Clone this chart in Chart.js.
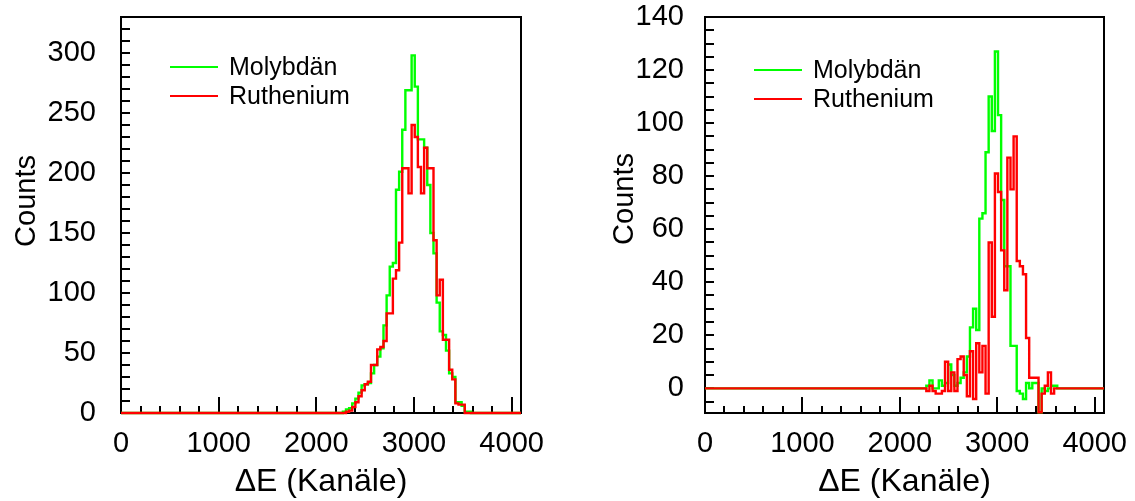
<!DOCTYPE html>
<html>
<head>
<meta charset="utf-8">
<script src="https://cdn.jsdelivr.net/npm/chart.js@4.4.1/dist/chart.umd.min.js"></script>
<style>
  html, body { margin: 0; padding: 0; background: #fff; overflow: hidden; }
  #wrap { position: relative; width: 1135px; height: 501px; }
  canvas { position: absolute; top: 0; }
</style>
</head>
<body>
<div id="wrap">
  <canvas id="leftChart" width="567" height="501" style="left:0"></canvas>
  <canvas id="rightChart" width="568" height="501" style="left:567px"></canvas>
</div>
<script>
// histogram bins are 32 channels wide, listed bins start at channel 2240
const binWidth = 32;
const firstChannel = 2240;
const channelMax = 4096;

const seriesNames = ['Molybdän', 'Ruthenium'];

// left panel: raw spectra
const molyLeft = [0, 1, 3, 4, 8, 12, 17, 23, 24, 25, 33, 40, 47, 54, 73, 98, 122, 125, 186, 201,
  236, 269, 269, 298, 272, 228, 228, 221, 190, 150, 133, 92, 68, 65, 52, 33, 30, 9, 9, 6, 1, 1];
const ruthLeft = [0, 0, 1, 2, 5, 9, 14, 19, 24, 26, 40, 40, 53, 55, 60, 83, 83, 112, 119, 142,
  204, 204, 183, 240, 230, 205, 183, 221, 204, 204, 144, 98, 111, 61, 61, 36, 28, 8, 7, 7, 0, 0];

// right panel: background subtracted spectra
const molyRight = [0, 1, 3, 0, 0, 3, 1, 2, 9, 5, 1, 2, 4, 6, 12, 23, 30, 22, 64, 66,
  89, 110, 97, 127, 103, 71, 46, 46, 16, 16, -1, -2, -4, 2, 0, 2, 2, -9, 0, -1, 0, 1, 1, 0];
const ruthRight = [0, -1, 1, -1, -2, -2, -1, 10, -1, 6, -1, 11, 12, 5, -3, 14, -4, 17, 6, 16,
  -2, 55, 27, 81, 74, 52, 37, 87, 75, 95, 48, 46, 43, 19, 4, 4, 4, -9, -2, 1, 6, -2, 0, 0];

const xMajor = [0, 1000, 2000, 3000, 4000];
const xMinor = [200, 400, 600, 800, 1200, 1400, 1600, 1800, 2200, 2400, 2600, 2800,
  3200, 3400, 3600, 3800];
const leftYMajor = [0, 50, 100, 150, 200, 250, 300];
const rightYMajor = [0, 20, 40, 60, 80, 100, 120, 140];

Chart.defaults.font.family = "'Liberation Sans', Arial, sans-serif";
Chart.defaults.color = '#000';

function histPoints(counts) {
  const pts = [{x: 0, y: 0}];
  counts.forEach(function(c, i) {
    pts.push({x: firstChannel + i * binWidth, y: c});
  });
  pts.push({x: firstChannel + counts.length * binWidth, y: 0});
  pts.push({x: channelMax, y: 0});
  return pts;
}

function minorValues(lo, hi, step) {
  const out = [];
  for (let v = lo; v <= hi; v += step) out.push(v);
  return out;
}

const framePlugin = {
  id: 'frame',
  beforeDatasetsDraw(chart, args, opts) {
    const {ctx, chartArea: a, scales: {x, y}} = chart;
    ctx.save();
    ctx.strokeStyle = '#000';
    ctx.lineWidth = 2;
    ctx.beginPath();
    xMajor.concat(xMinor).forEach(function(v) {
      const px = Math.round(x.getPixelForValue(v));
      const len = xMajor.includes(v) ? 16 : 7;
      ctx.moveTo(px, a.bottom);
      ctx.lineTo(px, a.bottom - len);
    });
    opts.yTicks.forEach(function(v) {
      const py = Math.round(y.getPixelForValue(v));
      ctx.moveTo(a.left, py);
      ctx.lineTo(a.left + 9, py);
    });
    ctx.stroke();
    ctx.strokeRect(a.left, a.top, a.right - a.left, a.bottom - a.top);
    ctx.restore();
  },
  afterDraw(chart, args, opts) {
    const {ctx, chartArea: a} = chart;
    ctx.save();
    // y axis title
    ctx.font = "29px 'Liberation Sans', Arial, sans-serif";
    ctx.fillStyle = '#000';
    ctx.textAlign = 'center';
    ctx.textBaseline = 'alphabetic';
    ctx.translate(opts.titleX, opts.titleY);
    ctx.rotate(-Math.PI / 2);
    ctx.fillText('Counts', 0, 0);
    ctx.restore();

    // legend
    ctx.save();
    ctx.font = "25px 'Liberation Sans', Arial, sans-serif";
    ctx.textBaseline = 'middle';
    ctx.textAlign = 'left';
    ctx.lineWidth = 2;
    const colors = ['#00ff00', '#ff0000'];
    seriesNames.forEach(function(name, i) {
      const ly = opts.legendY + i * 29;
      ctx.strokeStyle = colors[i];
      ctx.beginPath();
      ctx.moveTo(a.left + 49, ly);
      ctx.lineTo(a.left + 97, ly);
      ctx.stroke();
      ctx.fillStyle = '#000';
      ctx.fillText(name, a.left + 108, ly + 1);
    });
    ctx.restore();
  }
};

function makeChart(id, moly, ruth, yMin, yMax, yMajor, yTicks, axisWidth, rightPad, tickPad, titleX, titleY, legendY) {
  return new Chart(document.getElementById(id), {
    type: 'line',
    data: {
      datasets: [
        {
          label: seriesNames[0],
          data: histPoints(moly),
          borderColor: '#00ff00',
          borderWidth: 2.4,
          pointRadius: 0,
          stepped: 'before',
          fill: false,
          clip: false,
          order: 2
        },
        {
          label: seriesNames[1],
          data: histPoints(ruth),
          borderColor: '#ff0000',
          borderWidth: 2.4,
          pointRadius: 0,
          stepped: 'before',
          fill: false,
          clip: false,
          order: 1
        }
      ]
    },
    options: {
      responsive: false,
      animation: false,
      devicePixelRatio: 1,
      layout: { padding: { left: 0, top: 17, right: rightPad, bottom: 0 } },
      plugins: {
        legend: { display: false },
        tooltip: { enabled: false },
        frame: { yTicks: yTicks, titleX: titleX, titleY: titleY, legendY: legendY }
      },
      scales: {
        x: {
          type: 'linear',
          min: 0,
          max: channelMax,
          grid: { display: false, drawTicks: false },
          border: { display: false },
          afterBuildTicks(scale) {
            scale.ticks = xMajor.map(function(v) { return {value: v}; });
          },
          ticks: {
            autoSkip: false,
            maxRotation: 0,
            padding: 14,
            font: { size: 29 },
            color: '#000',
            callback: function(v) { return String(v); }
          },
          title: {
            display: true,
            text: 'ΔE (Kanäle)',
            font: { size: 32 },
            color: '#000',
            padding: { top: 0, bottom: 0 }
          },
          afterFit(scale) {
            scale.height = 88;
            scale.paddingLeft = 0;
            scale.paddingRight = 0;
          }
        },
        y: {
          type: 'linear',
          min: yMin,
          max: yMax,
          grid: { display: false, drawTicks: false },
          border: { display: false },
          afterBuildTicks(scale) {
            scale.ticks = yMajor.map(function(v) { return {value: v}; });
          },
          ticks: {
            autoSkip: false,
            padding: tickPad,
            font: { size: 29 },
            color: '#000',
            callback: function(v) { return String(v); }
          },
          afterFit(scale) {
            scale.width = axisWidth;
            scale.paddingTop = 0;
            scale.paddingBottom = 0;
          }
        }
      }
    },
    plugins: [framePlugin]
  });
}

makeChart('leftChart', molyLeft, ruthLeft, 0, 330, leftYMajor,
  minorValues(0, 330, 10), 121, 46, 25, 35, 201, 67);
makeChart('rightChart', molyRight, ruthRight, -9.3, 140, rightYMajor,
  minorValues(-5, 140, 5), 138, 31, 21, 66, 199, 70);
</script>
</body>
</html>
